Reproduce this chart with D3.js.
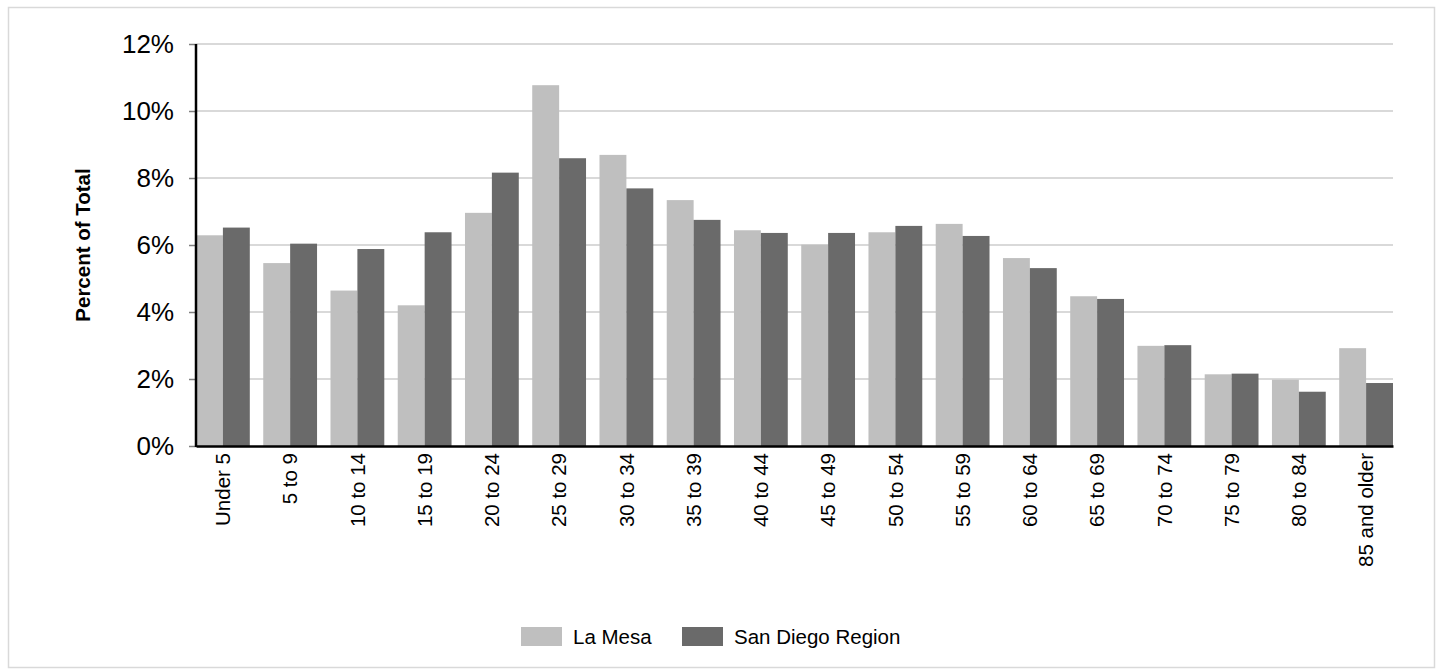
<!DOCTYPE html>
<html>
<head>
<meta charset="utf-8">
<script src="https://cdn.jsdelivr.net/npm/d3@7"></script>
<style>
  html, body { margin: 0; padding: 0; background: #ffffff; }
  svg { display: block; font-family: "Liberation Sans", Arial, sans-serif; }
</style>
</head>
<body>
<svg id="chart" width="1439" height="671"></svg>
<script>
const categories = ["Under 5","5 to 9","10 to 14","15 to 19","20 to 24","25 to 29","30 to 34","35 to 39","40 to 44","45 to 49","50 to 54","55 to 59","60 to 64","65 to 69","70 to 74","75 to 79","80 to 84","85 and older"];
const seriesNames = ["La Mesa", "San Diego Region"];
const laMesa =   [6.29, 5.46, 4.64, 4.20, 6.96, 10.77, 8.69, 7.34, 6.44, 6.01, 6.38, 6.63, 5.61, 4.47, 2.99, 2.14, 1.98, 2.92];
const sanDiego = [6.52, 6.04, 5.88, 6.38, 8.16, 8.59, 7.69, 6.75, 6.36, 6.36, 6.57, 6.27, 5.31, 4.39, 3.01, 2.16, 1.62, 1.88];
const yTicks = [0, 2, 4, 6, 8, 10, 12];
const colors = ["#bfbfbf", "#6a6a6a"];

(function () {
const svg = d3.select("#chart");
const pL = 196, pR = 1393, pT = 44, pB = 446;

// outer frame
svg.append("rect").attr("x", 8.5).attr("y", 7.5).attr("width", 1426).attr("height", 660)
  .attr("fill", "none").attr("stroke", "#d9d9d9").attr("stroke-width", 1.5);

const x = d3.scaleBand().domain(categories).range([pL, pR]).paddingInner(0.2).paddingOuter(0);
const xs = d3.scaleBand().domain(seriesNames).range([0, x.bandwidth()]).padding(0);
const y = d3.scaleLinear().domain([0, 12]).range([pB, pT]);

// gridlines
svg.append("g").selectAll("line").data(yTicks.filter(t => t > 0)).join("line")
  .attr("x1", pL).attr("x2", pR)
  .attr("y1", d => y(d)).attr("y2", d => y(d))
  .attr("stroke", "#d9d9d9").attr("stroke-width", 2);

// y axis
const yAxis = d3.axisLeft(y).tickValues(yTicks).tickFormat(d => d + "%").tickSize(7).tickPadding(15);
const gy = svg.append("g").attr("transform", `translate(${pL},0)`).call(yAxis);
gy.select(".domain").remove();
gy.selectAll(".tick line").attr("stroke", "#7f7f7f").attr("stroke-width", 1.5);
gy.selectAll(".tick text").attr("font-size", 26).attr("fill", "#000")
  .attr("font-family", "'Liberation Sans', Arial, sans-serif");

// bars
const data = categories.map((c, i) => ({ cat: c, vals: [laMesa[i], sanDiego[i]] }));
const groups = svg.append("g").selectAll("g").data(data).join("g")
  .attr("transform", d => `translate(${x(d.cat)},0)`);
groups.selectAll("rect").data(d => d.vals.map((v, j) => ({ name: seriesNames[j], v, j }))).join("rect")
  .attr("x", d => xs(d.name))
  .attr("width", xs.bandwidth())
  .attr("y", d => y(d.v))
  .attr("height", d => y(0) - y(d.v))
  .attr("fill", d => colors[d.j]);

// y axis line
svg.append("line").attr("x1", pL).attr("x2", pL).attr("y1", pT).attr("y2", pB + 1)
  .attr("stroke", "#000").attr("stroke-width", 2.5);

// x axis
const xAxis = d3.axisBottom(x).tickSize(0).tickPadding(0);
const gx = svg.append("g").attr("transform", `translate(0,${pB})`).call(xAxis);
gx.select(".domain").attr("stroke", "#000").attr("stroke-width", 2.5);
gx.selectAll(".tick text")
  .attr("font-size", 20.5).attr("fill", "#000")
  .attr("font-family", "'Liberation Sans', Arial, sans-serif")
  .attr("text-anchor", "end")
  .attr("transform", "rotate(-90)")
  .attr("x", -7).attr("y", 0).attr("dy", "0.35em");

// y axis title
svg.append("text").attr("transform", `translate(90,${(pT + pB) / 2}) rotate(-90)`)
  .attr("text-anchor", "middle").attr("font-size", 20.5).attr("font-weight", "bold")
  .attr("fill", "#000").text("Percent of Total");

// legend
const legendX = [521, 682];
const lg = svg.append("g").selectAll("g").data(seriesNames).join("g")
  .attr("transform", (d, i) => `translate(${legendX[i]},627)`);
lg.append("rect").attr("width", 41).attr("height", 19).attr("fill", (d, i) => colors[i]);
lg.append("text").attr("x", 52).attr("y", 10).attr("dy", "0.35em")
  .attr("font-size", 20.5).attr("fill", "#000").text(d => d);
})();
</script>
</body>
</html>
